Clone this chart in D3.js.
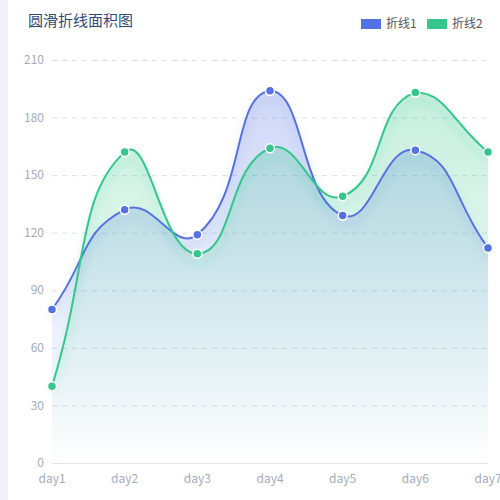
<!DOCTYPE html>
<html>
<head>
<meta charset="utf-8">
<script src="https://cdn.jsdelivr.net/npm/d3@7"></script>
<style>
  body { margin: 0; background: #fff; }
  svg { display: block; font-family: "Noto Sans CJK SC", "Noto Sans", sans-serif; }
</style>
</head>
<body>
<script>
// data
var days = ["day1", "day2", "day3", "day4", "day5", "day6", "day7"];
var line1 = [80, 132, 119, 194, 129, 163, 112];
var line2 = [40, 162, 109, 164, 139, 193, 162];
var yTicks = [0, 30, 60, 90, 120, 150, 180, 210];
var seriesNames = ["折线1", "折线2"];

var colors = ["#5572e2", "#34c68a"];

var width = 500, height = 500;
var margin = {top: 60, right: 12, bottom: 37, left: 52};

var svg = d3.select("body").append("svg")
    .attr("width", width)
    .attr("height", height);

// left strip
svg.append("rect")
    .attr("x", 0).attr("y", 0)
    .attr("width", 8).attr("height", height)
    .attr("fill", "#f1f2f8");

var x = d3.scalePoint()
    .domain(days)
    .range([margin.left, width - margin.right]);

var y = d3.scaleLinear()
    .domain([0, 210])
    .range([height - margin.bottom, margin.top]);

var defs = svg.append("defs");

// gradients for the areas
colors.forEach(function(c, i) {
    var g = defs.append("linearGradient")
        .attr("id", "grad" + i)
        .attr("x1", 0).attr("y1", 0)
        .attr("x2", 0).attr("y2", 1);
    g.append("stop").attr("offset", "0%").attr("stop-color", c).attr("stop-opacity", 0.28);
    g.append("stop").attr("offset", "100%").attr("stop-color", c).attr("stop-opacity", 0.0);
});

// soft shadow under the lines
colors.forEach(function(c, i) {
    var f = defs.append("filter")
        .attr("id", "shadow" + i)
        .attr("x", "-20%").attr("y", "-20%")
        .attr("width", "140%").attr("height", "160%");
    f.append("feDropShadow")
        .attr("dx", 0).attr("dy", 8)
        .attr("stdDeviation", 5)
        .attr("flood-color", c)
        .attr("flood-opacity", 0.35);
});

// grid lines
svg.append("g")
    .selectAll("line")
    .data(yTicks.slice(1))
    .enter()
    .append("line")
    .attr("x1", margin.left)
    .attr("x2", width - margin.right)
    .attr("y1", function(d) { return y(d) + 0.5; })
    .attr("y2", function(d) { return y(d) + 0.5; })
    .attr("stroke", "#dcdfe8")
    .attr("stroke-dasharray", "5,5");

// y axis labels
svg.append("g")
    .selectAll("text")
    .data(yTicks)
    .enter()
    .append("text")
    .attr("x", margin.left - 8)
    .attr("y", function(d) { return y(d); })
    .attr("dy", "0.35em")
    .attr("text-anchor", "end")
    .attr("fill", "#a3abbb")
    .style("font-size", "12px")
    .text(function(d) { return d; });

// x axis line
svg.append("line")
    .attr("x1", margin.left)
    .attr("x2", width - margin.right)
    .attr("y1", y(0) + 0.5)
    .attr("y2", y(0) + 0.5)
    .attr("stroke", "#e0e4ee");

// x axis labels
svg.append("g")
    .selectAll("text")
    .data(days)
    .enter()
    .append("text")
    .attr("x", function(d) { return x(d); })
    .attr("y", y(0) + 20)
    .attr("text-anchor", "middle")
    .attr("fill", "#a3abbb")
    .style("font-size", "12px")
    .text(function(d) { return d; });

// echarts-like smooth bezier (smooth = 0.5, bbox constraint)
function smoothPath(pts, ctx, smooth) {
    var minX = d3.min(pts, function(p) { return p[0]; }),
        maxX = d3.max(pts, function(p) { return p[0]; }),
        minY = d3.min(pts, function(p) { return p[1]; }),
        maxY = d3.max(pts, function(p) { return p[1]; });
    function clamp(p) {
        return [Math.max(minX, Math.min(maxX, p[0])), Math.max(minY, Math.min(maxY, p[1]))];
    }
    var n = pts.length;
    var cps = [];
    for (var i = 0; i < n; i++) {
        var p = pts[i];
        var prev = pts[Math.max(0, i - 1)];
        var next = pts[Math.min(n - 1, i + 1)];
        var vx = (next[0] - prev[0]) * smooth, vy = (next[1] - prev[1]) * smooth;
        var d0 = Math.hypot(p[0] - prev[0], p[1] - prev[1]);
        var d1 = Math.hypot(p[0] - next[0], p[1] - next[1]);
        var s = d0 + d1;
        if (s !== 0) { d0 /= s; d1 /= s; }
        cps.push([
            clamp([p[0] - vx * d0, p[1] - vy * d0]),
            clamp([p[0] + vx * d1, p[1] + vy * d1])
        ]);
    }
    ctx.moveTo(pts[0][0], pts[0][1]);
    for (var j = 1; j < n; j++) {
        var c1 = cps[j - 1][1], c2 = cps[j][0];
        ctx.bezierCurveTo(c1[0], c1[1], c2[0], c2[1], pts[j][0], pts[j][1]);
    }
    return ctx;
}

var allSeries = [line1, line2];

allSeries.forEach(function(vals, i) {
    var pts = vals.map(function(v, k) { return [x(days[k]), y(v)]; });

    var area = smoothPath(pts, d3.path(), 0.5);
    area.lineTo(pts[pts.length - 1][0], y(0));
    area.lineTo(pts[0][0], y(0));
    area.closePath();

    svg.append("path")
        .attr("d", area.toString())
        .attr("fill", "url(#grad" + i + ")");
});

allSeries.forEach(function(vals, i) {
    var pts = vals.map(function(v, k) { return [x(days[k]), y(v)]; });
    svg.append("path")
        .attr("d", smoothPath(pts, d3.path(), 0.5).toString())
        .attr("fill", "none")
        .attr("stroke", colors[i])
        .attr("stroke-width", 2)
        .attr("filter", "url(#shadow" + i + ")");
});

allSeries.forEach(function(vals, i) {
    svg.append("g")
        .selectAll("circle")
        .data(vals)
        .enter()
        .append("circle")
        .attr("cx", function(d, k) { return x(days[k]); })
        .attr("cy", function(d) { return y(d); })
        .attr("r", 4.5)
        .attr("fill", colors[i])
        .attr("stroke", "#fff")
        .attr("stroke-width", 1.5);
});

// title
svg.append("text")
    .attr("x", 28)
    .attr("y", 26)
    .attr("fill", "#2f4a78")
    .style("font-size", "15px")
    .text("圆滑折线面积图");

// legend
var legendX = [361, 427];
seriesNames.forEach(function(name, i) {
    svg.append("rect")
        .attr("x", legendX[i])
        .attr("y", 19)
        .attr("width", 20)
        .attr("height", 10)
        .attr("fill", colors[i]);
    svg.append("text")
        .attr("x", legendX[i] + 25)
        .attr("y", 24)
        .attr("dy", "0.35em")
        .attr("fill", "#555")
        .style("font-size", "12px")
        .text(name);
});
</script>
</body>
</html>
